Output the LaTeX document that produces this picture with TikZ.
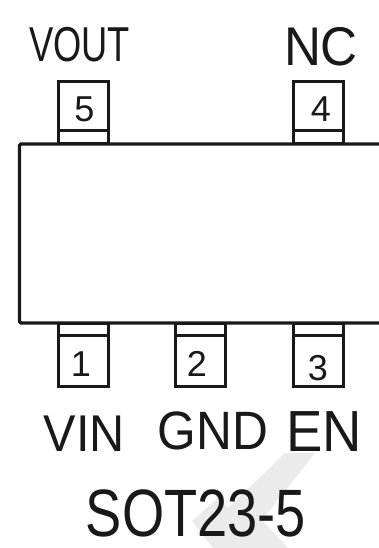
\documentclass[tikz,border=0pt]{standalone}
\usepackage{fontspec}
\setmainfont{Liberation Sans}
\definecolor{ink}{gray}{0.1}
\tikzset{
  lbl/.style={anchor=base,inner sep=0pt,text=ink,transform shape},
  pinbox/.style={draw=ink,line width=3pt},
  body/.style={draw=ink,line width=3.4pt,rounded corners=1.5pt}
}
\newcommand{\fs}[1]{\fontsize{#1}{#1}\selectfont}
\begin{document}
\begin{tikzpicture}[x=1pt,y=-1pt]
\useasboundingbox (0,0) rectangle (379,548);
\fill[white] (0,0) rectangle (379,548);
\fill[gray!16] (192,521) -- (218,498) -- (228,508) -- (285,453) -- (315,453) -- (262,520) -- (288,548) -- (213,548) -- cycle;
% pins
\foreach \n/\x in {p5/58,p4/293}{
  \draw[pinbox] (\x,82) rectangle (\x+50.5,144);
  \draw[pinbox] (\x,131) -- (\x+50.5,131);
}
\foreach \n/\x in {p1/58,p2/175,p3/293}{
  \draw[pinbox] (\x,323) rectangle (\x+50.5,386);
  \draw[pinbox] (\x,335) -- (\x+50.5,335);
}
% body
\draw[body] (385,144) -- (19.5,144) -- (19.5,323) -- (385,323);
% pin numbers
\node[lbl] (n5) at (84.5,122) {\fs{36}5};
\node[lbl] (n4) at (321,122) {\fs{36}4};
\node[lbl] (n1) at (81,376) {\fs{36}1};
\node[lbl] (n2) at (197,376) {\fs{36}2};
\node[lbl] (n3) at (318,380) {\fs{36}3};
% names
\node[lbl,xscale=.74] (vout) at (79.5,62) {\fs{49}VOUT};
\node[lbl,xscale=.94] (nc) at (321,66) {\fs{54.5}NC};
\node[lbl,xscale=.94] (vin) at (84.5,451) {\fs{51.7}VIN};
\node[lbl,xscale=.92] (gnd) at (213,449) {\fs{54}GND};
\node[lbl,xscale=.94] (en) at (324,451) {\fs{58}EN};
\node[lbl,xscale=.81] (pkg) at (196,536) {\fs{67}SOT23-5};
\end{tikzpicture}
\end{document}
